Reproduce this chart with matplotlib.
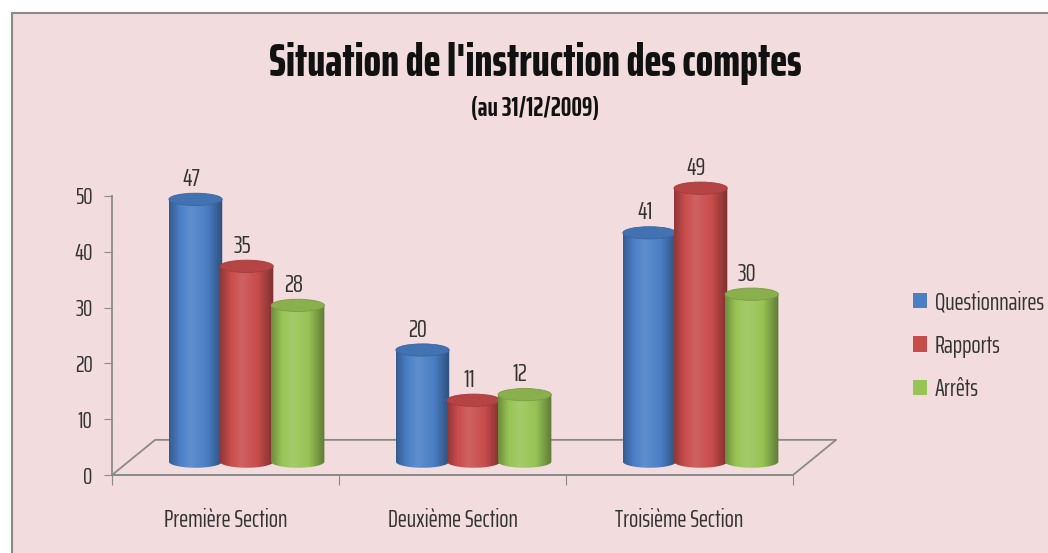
import numpy as np
import matplotlib
matplotlib.use('Agg')
import matplotlib.pyplot as plt
from matplotlib.patches import Ellipse, Rectangle, PathPatch, Patch
from matplotlib.path import Path
from matplotlib.colors import LinearSegmentedColormap, to_rgb

sections = ['Première Section', 'Deuxième Section', 'Troisième Section']
series_names = ['Questionnaires', 'Rapports', 'Arrêts']
questionnaires = [47, 20, 41]
rapports = [35, 11, 49]
arrets = [28, 12, 30]
y_ticks = [0, 10, 20, 30, 40, 50]

colors = ['#4a7fc6', '#c94c4c', '#98c455']
bg_pink = '#f2dcdd'
grid_gray = '#8a8a8a'
text_gray = '#333333'

plt.rcParams['font.family'] = ['Saira ExtraCondensed', 'DejaVu Sans']
plt.rcParams['font.weight'] = 400

fig = plt.figure(figsize=(10.48, 5.53), dpi=100)
fig.patch.set_facecolor('white')
fig.patches.append(Rectangle((12 / 1048, -0.02), 1.0, 1 - 13 / 553 + 0.02,
                             transform=fig.transFigure, facecolor=bg_pink,
                             edgecolor='#8a8a8a', linewidth=1.5, zorder=-10))

# axis 0..50 spans pixels 475..196, leave headroom above for tall cylinders
y_top = 58
ax = fig.add_axes([112 / 1048, 78 / 553, 681 / 1048, 279 / 553 * y_top / 50])
ax.set_facecolor('none')

# 3D offsets of the floor (data units)
depth_dx = 0.19
depth_dy = 6.3
base = 2.4          # cylinder bottom sits in the middle of the floor depth
ell_h = 2.2         # height of the top/bottom ellipses
bar_w = 0.235
step = 0.225
shift = 0.093

all_values = [questionnaires, rapports, arrets]
x = np.arange(len(sections))


def shade(c, f):
    r, g, b = to_rgb(c)
    if f < 1:
        return (r * f, g * f, b * f)
    return tuple(min(1, v + (1 - v) * (f - 1)) for v in (r, g, b))


for k, (vals, col) in enumerate(zip(all_values, colors)):
    xs = x + shift + (k - 1) * step
    bars = ax.bar(xs, vals, width=bar_w, bottom=base, color=col,
                  linewidth=0, zorder=3 + k)
    cmap = LinearSegmentedColormap.from_list(
        'cyl', [(0, shade(col, 0.72)), (0.2, col), (0.4, shade(col, 1.12)),
                (0.7, col), (1, shade(col, 0.62))])
    grad = np.linspace(0, 1, 128).reshape(1, -1)
    for b, v in zip(bars, vals):
        x0, w = b.get_x(), b.get_width()
        xc = x0 + w / 2
        yb, yt = base, base + v
        t = np.linspace(np.pi, 2 * np.pi, 40)
        verts = [(x0, yt), (x0, yb)]
        verts += list(zip(xc + w / 2 * np.cos(t), yb + ell_h / 2 * np.sin(t)))
        verts += [(x0 + w, yt), (x0, yt)]
        body = PathPatch(Path(verts), facecolor='none', edgecolor='none',
                         transform=ax.transData)
        ax.add_patch(body)
        im = ax.imshow(grad, extent=[x0, x0 + w, yb - ell_h, yt], aspect='auto',
                       cmap=cmap, zorder=3 + k, interpolation='bilinear')
        im.set_clip_path(body)
        ax.add_patch(Ellipse((xc, yt), w, ell_h, facecolor=shade(col, 0.9),
                             edgecolor=shade(col, 0.8), linewidth=0.6,
                             zorder=3.5 + k))
        ax.text(xc - 0.02, yt + 1.5, str(v), ha='center', va='bottom',
                fontsize=18, color=text_gray, zorder=10)

ax.set_xlim(-0.5, 2.5)
ax.set_ylim(0, y_top)

# floor outline
fx = [-0.5, 2.5, 2.5 + depth_dx, -0.5 + depth_dx, -0.5]
fy = [0, 0, depth_dy, depth_dy, 0]
ax.plot(fx, fy, color=grid_gray, linewidth=1.3, clip_on=False, zorder=1)

for s in ['top', 'right']:
    ax.spines[s].set_visible(False)
for s in ['left', 'bottom']:
    ax.spines[s].set_color(grid_gray)
    ax.spines[s].set_linewidth(1.3)
ax.spines['left'].set_bounds(0, 50)

ax.set_yticks(y_ticks)
ax.tick_params(axis='y', direction='out', length=6, color=grid_gray,
               labelsize=17, labelcolor=text_gray, pad=8)
ax.set_xticks([-0.5, 0.5, 1.5, 2.5])
ax.set_xticklabels([])
ax.set_xticks(x, minor=True)
ax.set_xticklabels(sections, minor=True)
ax.tick_params(axis='x', which='major', direction='out', length=7,
               color=grid_gray)
ax.tick_params(axis='x', which='minor', length=0, labelsize=17.5,
               labelcolor=text_gray, pad=24)

fig.text(0.511, 0.885, "Situation de l'instruction des comptes", ha='center',
         va='center', fontsize=33, fontweight=800, color='#111111')
fig.text(0.511, 0.803, '(au 31/12/2009)', ha='center', va='center',
         fontsize=19, fontweight=700, color='#111111')

handles = [Patch(facecolor=c) for c in colors]
fig.legend(handles, series_names, loc='center left',
           bbox_to_anchor=(0.85, 0.375), frameon=False, fontsize=17.5,
           handlelength=0.6, handleheight=0.6, handletextpad=0.3,
           labelspacing=0.8, labelcolor=text_gray)

fig.savefig('out.png', dpi=100, facecolor=fig.get_facecolor())
